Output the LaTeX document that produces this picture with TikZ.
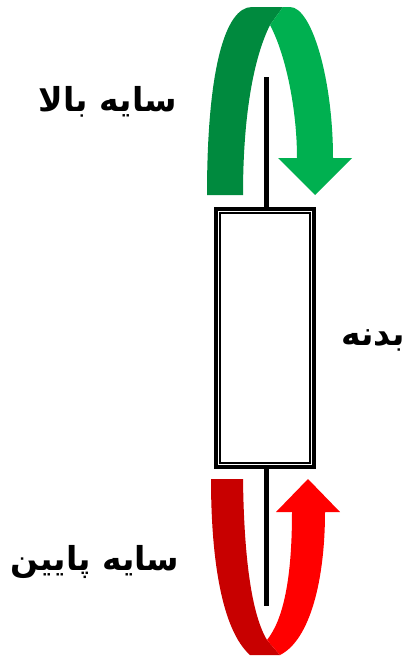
\documentclass[tikz,border=0pt]{standalone}
\usepackage{fontspec}
\newfontfamily\arabicfont[Script=Arabic]{DejaVu Sans}
\TeXXeTstate=1

\definecolor{greendark}{RGB}{0,138,62}
\definecolor{greenlight}{RGB}{0,176,80}
\definecolor{reddark}{RGB}{200,0,0}
\definecolor{redlight}{RGB}{255,0,0}

\tikzset{
	label text/.style={font=\arabicfont\bfseries\fontsize{33}{38}\selectfont, inner sep=0pt},
	wick/.style={line width=5pt, color=black},
}

\begin{document}
\begin{tikzpicture}[x=1pt,y=-1pt]

	\useasboundingbox (0,0) rectangle (406,656);

\begin{scope}
	% upper arrow
	\fill[greendark] (207,195) .. controls (207,70) and (225,7) ..
	(252,7) -- (283,7) -- (270,25) .. controls (255,55) and (243,110) ..
	(243,195) -- cycle;
	\fill[greenlight] (283,7) -- (270,25) .. controls (286,55) and
	(297,110) .. (297,158) -- (278,158) -- (315,195) -- (352,158) --
	(333,158) .. controls (333,80) and (312,7) .. (290,7) -- cycle;
\end{scope}

\begin{scope}
	% lower arrow
	\fill[reddark] (211,479) -- (243,479) .. controls (244,560) and
	(252,615) .. (267,640) -- (280,655) -- (250,655) .. controls
	(222,630) and (211,560) .. (211,479) -- cycle;
	\fill[redlight] (267,640) -- (280,655) .. controls (310,640) and
	(325,580) .. (325,512) -- (340,512) -- (308,479) -- (276,512) --
	(292,512) .. controls (292,580) and (283,620) .. (267,640) -- cycle;
\end{scope}

	\draw[wick] (266,77) coordinate (wtop) -- (266,208) coordinate (btop);
	\draw[wick] (266,467) coordinate (bbot) -- (266,606) coordinate (wbot);

	\draw[line width=4pt] (216,209) rectangle (314,467);
	\draw[line width=1.2pt] (220,213) rectangle (310,463);

	\node[label text] (upper) at (108,102) {\beginR سایه بالا\endR};
	\node[label text] (body) at (373,340) {\beginR بدنه\endR};
	\node[label text] (lower) at (95,562) {\beginR سایه پایین\endR};

\end{tikzpicture}
\end{document}
